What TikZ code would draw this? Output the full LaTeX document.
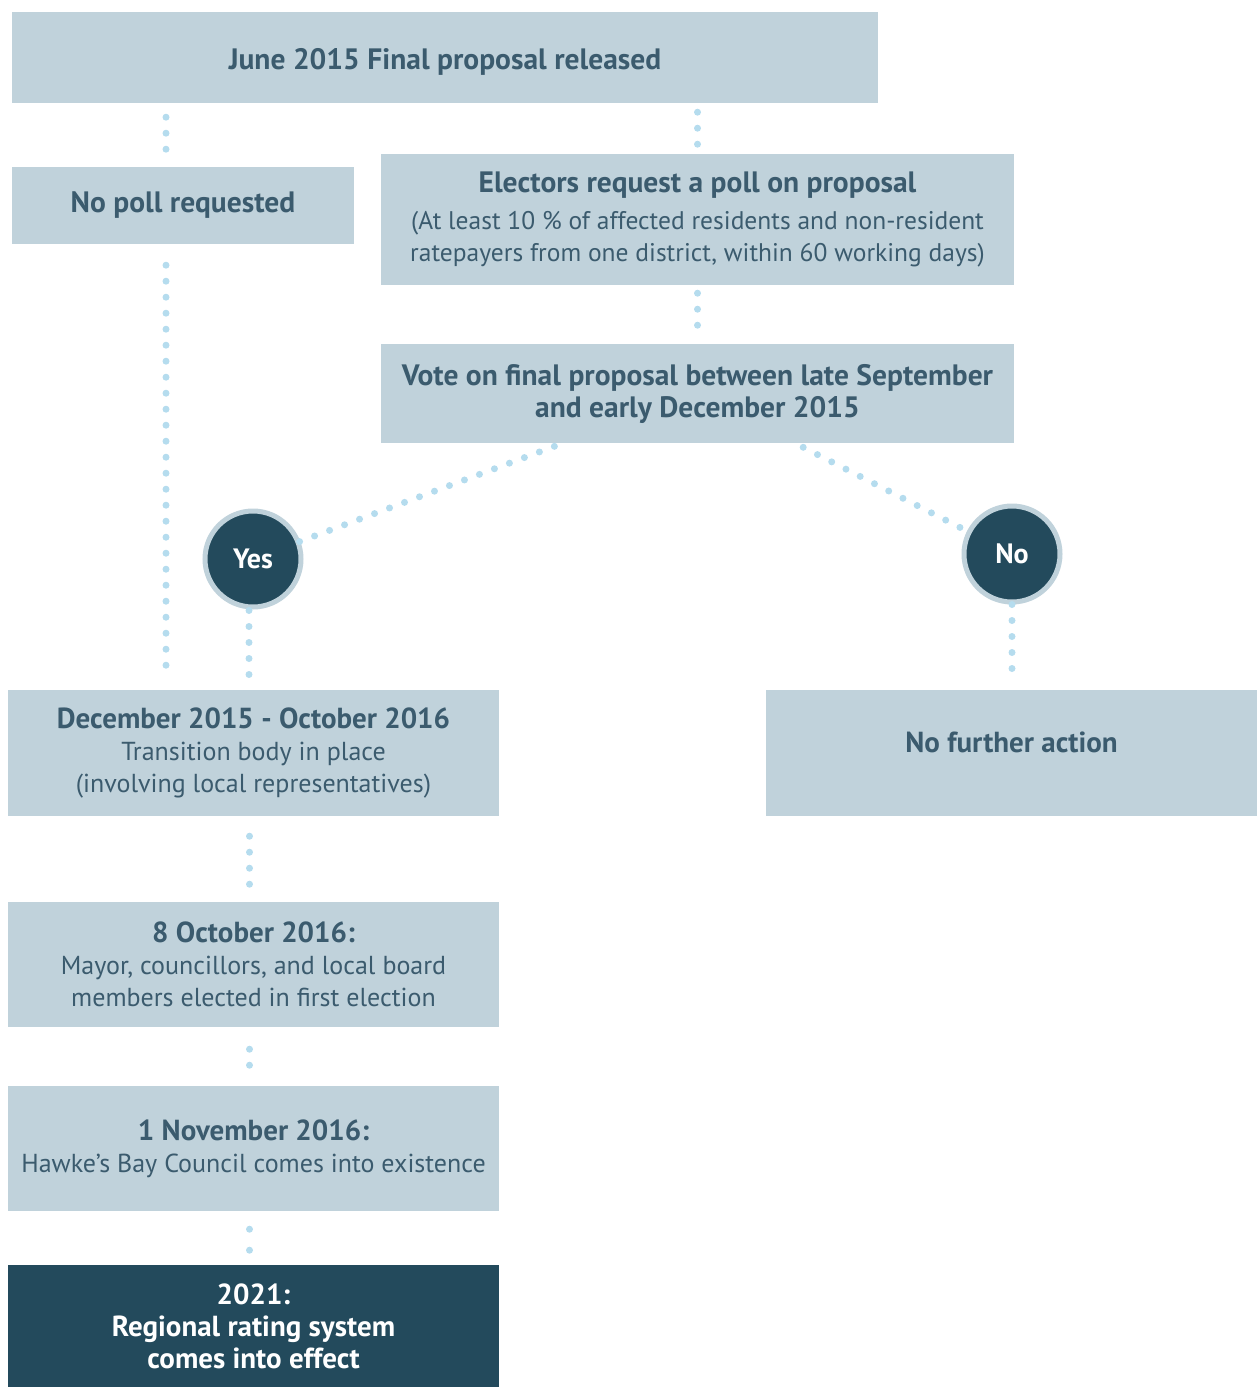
\documentclass[tikz,border=0pt]{standalone}
\usepackage{fontspec}
\setmainfont{PT Sans}
\usetikzlibrary{positioning}
\definecolor{boxblue}{HTML}{C0D2DB}
\definecolor{txtblue}{HTML}{3B5B6E}
\definecolor{darkblue}{HTML}{234A5C}
\definecolor{dotblue}{HTML}{B5DCEE}
\newcommand\hd{\bfseries\fontsize{29}{32}\selectfont}

\begin{document}
\begin{tikzpicture}[x=1pt,y=-1pt,
    box/.style={fill=boxblue, text=txtblue, align=center, inner sep=0pt, font=\fontsize{26}{32}\selectfont},
    condbox/.style={box, font=\bfseries\fontsize{29.5}{32}\selectfont},
    darkbox/.style={box, fill=darkblue, text=white},
    answer/.style={circle, fill=darkblue, draw=boxblue, line width=5pt, minimum size=96pt, inner sep=0pt, text=white, font=\bfseries\fontsize{28}{32}\selectfont},
    dots/.style={draw=dotblue, line width=7pt, line cap=round, dash pattern=on 0pt off 16pt}]
      \def\w{491}
      \def\h{125}
      \useasboundingbox (0,0) rectangle (1258,1387);
      % Draw the boxes
      \node[condbox, minimum width=866, minimum height=91, text height=30pt, text depth=7pt] (top) at (445,57.5) {June 2015 Final proposal released};
      \node[condbox, minimum width=342, minimum height=77] (nopoll) at (183,205.5) {No poll requested};
      \node[condbox, minimum width=633, minimum height=131] (electors) at (697.5,219.5) {Electors request a poll on proposal\\[5pt]
        {\mdseries\fontsize{25.5}{32}\selectfont (At least 10~\% of affected residents and non-resident}\\
        {\mdseries\fontsize{25.5}{32}\selectfont ratepayers from one district, within 60 working days)}};
      \node[condbox, minimum width=633, minimum height=99] (vote) at (697.5,393.5) {Vote on final proposal between late September\\and early December 2015};
      \node[box, minimum width=\w, minimum height=\h+1] (dec) at (253.5,753) {{\hd December 2015 - October 2016}\\Transition body in place\\(involving local representatives)};
      \node[box, minimum width=\w, minimum height=\h+1, text depth=22pt] (nofurther) at (1011.5,753) {\hd No further action};
      \node[box, minimum width=\w, minimum height=\h] (oct) at (253.5,964.5) {{\hd 8 October 2016:}\\Mayor, councillors, and local board\\members elected in first election};
      \node[box, minimum width=\w, minimum height=\h] (nov) at (253.5,1148.5) {{\hd 1 November 2016:}\\Hawke’s Bay Council comes into existence};
      \node[darkbox, minimum width=\w, minimum height=122, font=\hd] (eff) at (253.5,1326) {2021:\\Regional rating system\\comes into effect};
      % Draw the answers
      \node[answer] (yes) at (253,559) {Yes};
      \node[answer] (no) at (1012,554) {No};
      % helper points
      \coordinate (nopollin) at ([xshift=-17]nopoll.north);
      \coordinate (nopollout) at ([xshift=-17]nopoll.south);
      \coordinate (voteyes) at ([xshift=182]vote.south west);
      \coordinate (voteno) at ([xshift=-219]vote.south east);
      % Dotted connectors
      \draw[dots, shorten <=14, shorten >=16] (top.south -| nopollin) -- (nopollin);
      \draw[dots, shorten <=21, shorten >=16] (nopollout) -- (nopollout |- dec.north);
      \draw[dots, shorten <=9, shorten >=8] (top.south -| electors.north) -- (electors.north);
      \draw[dots, shorten <=8, shorten >=17] (electors.south) -- (vote.north);
      \draw[dots, shorten <=9, shorten >=-2] (voteyes) -- (yes);
      \draw[dots, shorten <=9, shorten >=2] (voteno) -- (no);
      \draw[dots, shorten <=1, shorten >=15] ([xshift=-4]yes.south) -- ([xshift=-4]yes.south |- dec.north);
      \draw[dots, shorten <=0, shorten >=17] (no.south) -- (no.south |- nofurther.north);
      \draw[dots, shorten <=20, shorten >=16] ([xshift=-4]dec.south) -- ([xshift=-4]oct.north);
      \draw[dots, shorten <=22, shorten >=20] ([xshift=-4]oct.south) -- ([xshift=-4]nov.north);
      \draw[dots, dash pattern=on 0pt off 21pt, shorten <=18, shorten >=14] ([xshift=-4]nov.south) -- ([xshift=-4]eff.north);
\end{tikzpicture}
\end{document}
